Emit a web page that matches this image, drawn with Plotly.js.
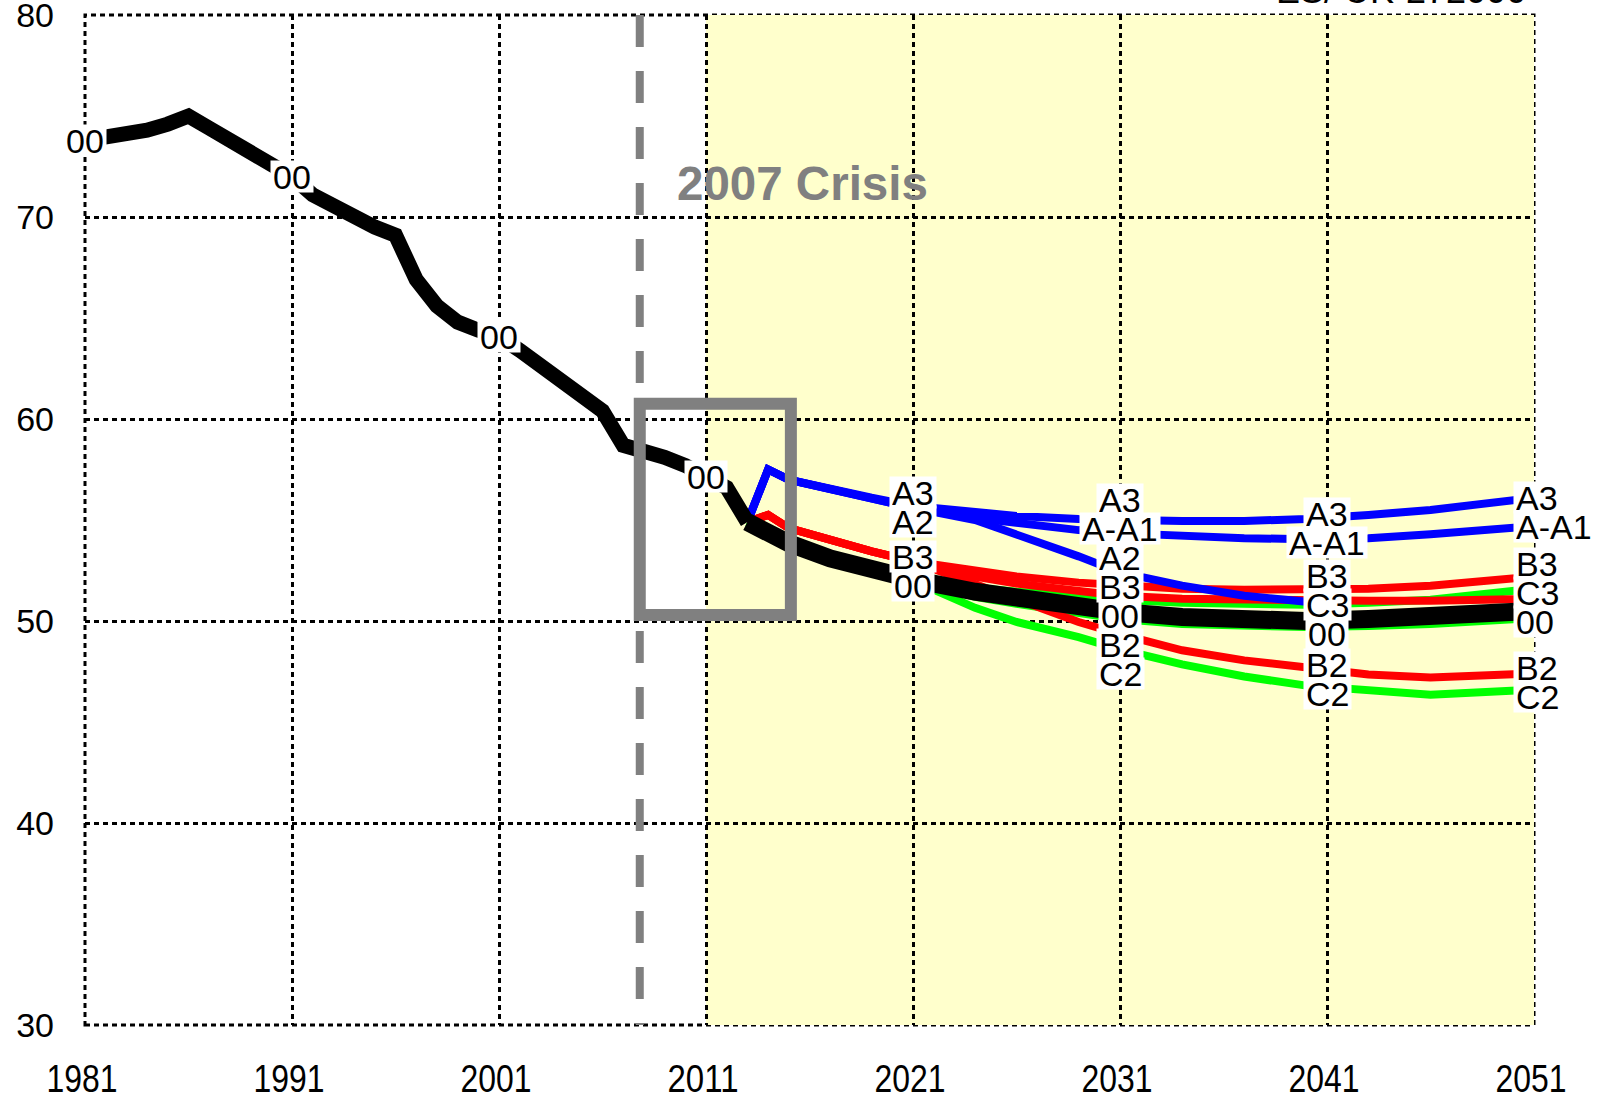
<!DOCTYPE html>
<html><head><meta charset="utf-8">
<script src="https://cdn.plot.ly/plotly-3.0.1.min.js"></script>
<style>html,body{margin:0;padding:0;background:#fff}#chart{width:1599px;height:1098px}</style>
</head><body><div id="chart"></div>
<script>
// ---------- DATA ----------
const histYears = [1981,1982,1983,1984,1985,1986,1987,1988,1989,1990,1991,1992,1993,1994,1995,1996,1997,1998,1999,2000,2001,2002,2003,2004,2005,2006,2007,2008,2009,2010,2011,2012,2013];
const hist00 = [73.8,73.95,74.1,74.3,74.6,75.0,74.4,73.75,73.1,72.5,72.0,71.1,70.5,70.0,69.5,69.1,66.9,65.6,64.8,64.4,64.1,63.4,62.65,61.85,61.1,60.4,58.7,58.45,58.1,57.7,57.15,56.6,54.9];

const projYears = [2013,2014,2015,2017,2019,2021,2024,2026,2029,2031,2034,2037,2040,2043,2046,2051];
const proj00  = [54.9,54.35,53.85,53.1,52.55,52.05,51.45,51.1,50.75,50.45,50.2,50.05,50.0,50.1,50.2,50.5];
const projA3  = [54.9,57.5,57.0,56.5,56.1,55.7,55.35,55.2,55.05,55.0,54.95,54.95,55.05,55.25,55.5,56.1];
const projAA1 = [54.9,57.5,57.0,56.5,56.1,55.6,55.1,54.85,54.5,54.35,54.2,54.1,54.05,54.1,54.3,54.7];
const projA2  = [54.9,57.5,57.0,56.5,56.1,55.6,55.0,54.3,53.2,52.4,51.75,51.25,50.95,null,null,null];
const projB3  = [54.9,55.25,54.6,54.0,53.45,52.95,52.45,52.2,51.9,51.75,51.6,51.55,51.55,51.6,51.75,52.2];
const projBB1 = [54.9,55.25,54.6,54.0,53.45,52.95,52.2,51.85,51.45,51.25,51.1,51.05,51.0,51.0,51.0,51.1];
const projB2  = [54.9,55.25,54.6,54.0,53.45,52.95,51.8,51.05,49.95,49.35,48.55,48.05,47.7,47.35,47.2,47.4];
const projC3  = [54.9,54.35,53.85,53.1,52.55,52.05,51.65,51.45,51.25,51.05,50.9,50.82,50.8,50.9,51.05,51.6];
const projCC1 = [54.9,54.35,53.85,53.1,52.55,52.0,51.2,50.85,50.4,50.1,49.85,49.75,49.7,49.75,49.85,50.15];
const projC2  = [54.9,54.35,53.85,53.1,52.55,52.0,50.65,49.95,49.2,48.6,47.85,47.25,46.8,46.55,46.35,46.6];

const xTicks = [1981,1991,2001,2011,2021,2031,2041,2051];
const xTickText = ["1981","1991","2001","2011","2021","2031","2041","2051"];
const yTicks = [30,40,50,60,70,80];
const yTickText = ["30","40","50","60","70","80"];

const crisisYear = 2007.8;
const crisisLabel = "2007 Crisis";
const topNote = "ES/ UK-272000";
const forecastStart = 2011, forecastEnd = 2051;
const boxYears = [2007.8, 2015.1];
const boxValues = [50.3, 60.76];

// label years per series
const labelsHist = [1981,1991,2001,2011];
const lab = {
  "00":  [2021,2031,2041,2051],
  "A3":  [2021,2031,2041,2051],
  "A-A1":[2031,2041,2051],
  "A2":  [2021,2031],
  "B3":  [2021,2031,2041,2051],
  "B2":  [2031,2041,2051],
  "C3":  [2041,2051],
  "C2":  [2031,2041,2051]
};

// ---------- LAYOUT CONSTANTS ----------
const W = 1599, H = 1098;
const M = {l:85, r:65, t:15, b:73};
const yRange = [30,80], xRange = [1981,2051];
const plotH = H - M.t - M.b;
const valToPx = v => M.t + (yRange[1]-v)/(yRange[1]-yRange[0])*plotH;

const BLUE='#0000FF', RED='#FF0000', GREEN='#00FF00', BLACK='#000000';

const series = [
  {name:'C-C1', y:projCC1, c:GREEN, w:8},
  {name:'C3',   y:projC3,  c:GREEN, w:8},
  {name:'C2',   y:projC2,  c:GREEN, w:8},
  {name:'B-B1', y:projBB1, c:RED,   w:8},
  {name:'B3',   y:projB3,  c:RED,   w:8},
  {name:'B2',   y:projB2,  c:RED,   w:8},
  {name:'A2',   y:projA2,  c:BLUE,  w:8},
  {name:'A-A1', y:projAA1, c:BLUE,  w:8},
  {name:'A3',   y:projA3,  c:BLUE,  w:8},
  {name:'00',   y:proj00,  c:BLACK, w:18}
];

const traces = series.map(s => ({
  type:'scatter', mode:'lines', x:projYears, y:s.y, name:s.name,
  line:{color:s.c, width:s.w}, hoverinfo:'skip', showlegend:false, connectgaps:false
}));
traces.push({type:'scatter', mode:'lines', x:histYears, y:hist00, name:'00 hist',
  line:{color:BLACK, width:15}, hoverinfo:'skip', showlegend:false});

function interp(xs, ys, x){
  for(let i=0;i<xs.length-1;i++){
    if(x>=xs[i] && x<=xs[i+1]){
      if(ys[i]==null || ys[i+1]==null) return (x===xs[i]?ys[i]:(x===xs[i+1]?ys[i+1]:null));
      return ys[i] + (ys[i+1]-ys[i])*(x-xs[i])/(xs[i+1]-xs[i]);
    }
  }
  return null;
}

// ---------- LABELS ----------
const annotations = [];
const labelFont = {family:'Liberation Sans, Arial, sans-serif', size:34, color:'#000'};
function addLabel(text, x, v, shiftPx){
  const right = (x === forecastEnd);
  annotations.push({x:x, y:v, xref:'x', yref:'y', text:text, showarrow:false,
    xanchor: right ? 'left':'center', xshift: right ? -21 : 0, yanchor:'middle',
    yshift: -shiftPx, bgcolor:'#FFFFFF', borderpad:2, height:27, font:labelFont});
}
labelsHist.forEach(yr => addLabel('00', yr, interp(histYears,hist00,yr), 0));

const SPACING = 29;
[2021,2031,2041,2051].forEach(yr => {
  const items = [];
  series.forEach(s => {
    if(lab[s.name] && lab[s.name].includes(yr)){
      const v = interp(projYears, s.y, yr);
      if(v!=null) items.push({name:s.name, v:v, px:valToPx(v)});
    }
  });
  items.sort((a,b)=>a.px-b.px);
  const p = items.map(it=>it.px);
  for(let k=0;k<400;k++){
    for(let i=1;i<p.length;i++){
      const d = p[i]-p[i-1];
      if(d < SPACING){ const sh=(SPACING-d)/2; p[i-1]-=sh; p[i]+=sh; }
    }
  }
  items.forEach((it,i)=> addLabel(it.name, yr, it.v, p[i]-it.px));
});

annotations.push({x:2009.5, y:71.67, xref:'x', yref:'y', text:crisisLabel, showarrow:false,
  xanchor:'left', yanchor:'middle',
  font:{family:'Liberation Sans, Arial, sans-serif', size:47.5, color:'#808080', weight:'bold'}});

// partly visible note at the very top edge
annotations.push({x:1, y:1, xref:'paper', yref:'paper', text:topNote, showarrow:false,
  xanchor:'right', yanchor:'bottom', xshift:-7, yshift:3, borderpad:0,
  font:{family:'Liberation Sans, Arial, sans-serif', size:36, color:'#000'}});

// ---------- SHAPES ----------
const shapes = [
  {type:'rect', xref:'x', yref:'y', x0:forecastStart, x1:forecastEnd, y0:yRange[0], y1:yRange[1],
   fillcolor:'#FFFFCC', line:{width:0}, layer:'below'},
  {type:'rect', xref:'paper', yref:'paper', x0:0, x1:1, y0:0, y1:1,
   line:{color:'#000', width:3, dash:'5px,4px'}, layer:'below'},
  {type:'line', xref:'x', yref:'y', x0:crisisYear, x1:crisisYear, y0:yRange[1], y1:yRange[0],
   line:{color:'#808080', width:8, dash:'32px,24px'}, layer:'above'},
  {type:'rect', xref:'x', yref:'y', x0:boxYears[0], x1:boxYears[1], y0:boxValues[0], y1:boxValues[1],
   line:{color:'#808080', width:12}, fillcolor:'rgba(0,0,0,0)', layer:'above'}
];

const layout = {
  width:W, height:H, margin:M,
  paper_bgcolor:'#FFFFFF', plot_bgcolor:'#FFFFFF',
  showlegend:false,
  xaxis:{range:xRange, tickvals:xTicks, ticktext:xTickText, showgrid:true, gridcolor:'#000', gridwidth:3,
    griddash:'5px,4px', zeroline:false, showline:false, ticks:'', ticklabelstandoff:28,
    ticklabeloverflow:'allow',
    tickfont:{family:'Liberation Sans, Arial, sans-serif', size:38, color:'#000'}},
  yaxis:{range:yRange, tickvals:yTicks, ticktext:yTickText, showgrid:true, gridcolor:'#000', gridwidth:3,
    griddash:'5px,4px', zeroline:false, showline:false, ticks:'', ticklabelstandoff:30,
    ticklabeloverflow:'allow',
    tickfont:{family:'Liberation Sans, Arial, sans-serif', size:34, color:'#000'}},
  shapes:shapes, annotations:annotations
};

Plotly.newPlot('chart', traces, layout, {staticPlot:true, displayModeBar:false}).then(gd => {
  // condensed look of the x tick labels
  gd.querySelectorAll('.xtick text').forEach(t => {
    t.setAttribute('textLength', '71');
    t.setAttribute('lengthAdjust', 'spacingAndGlyphs');
    t.setAttribute('dx', '-3');
  });
});
</script>
</body></html>
